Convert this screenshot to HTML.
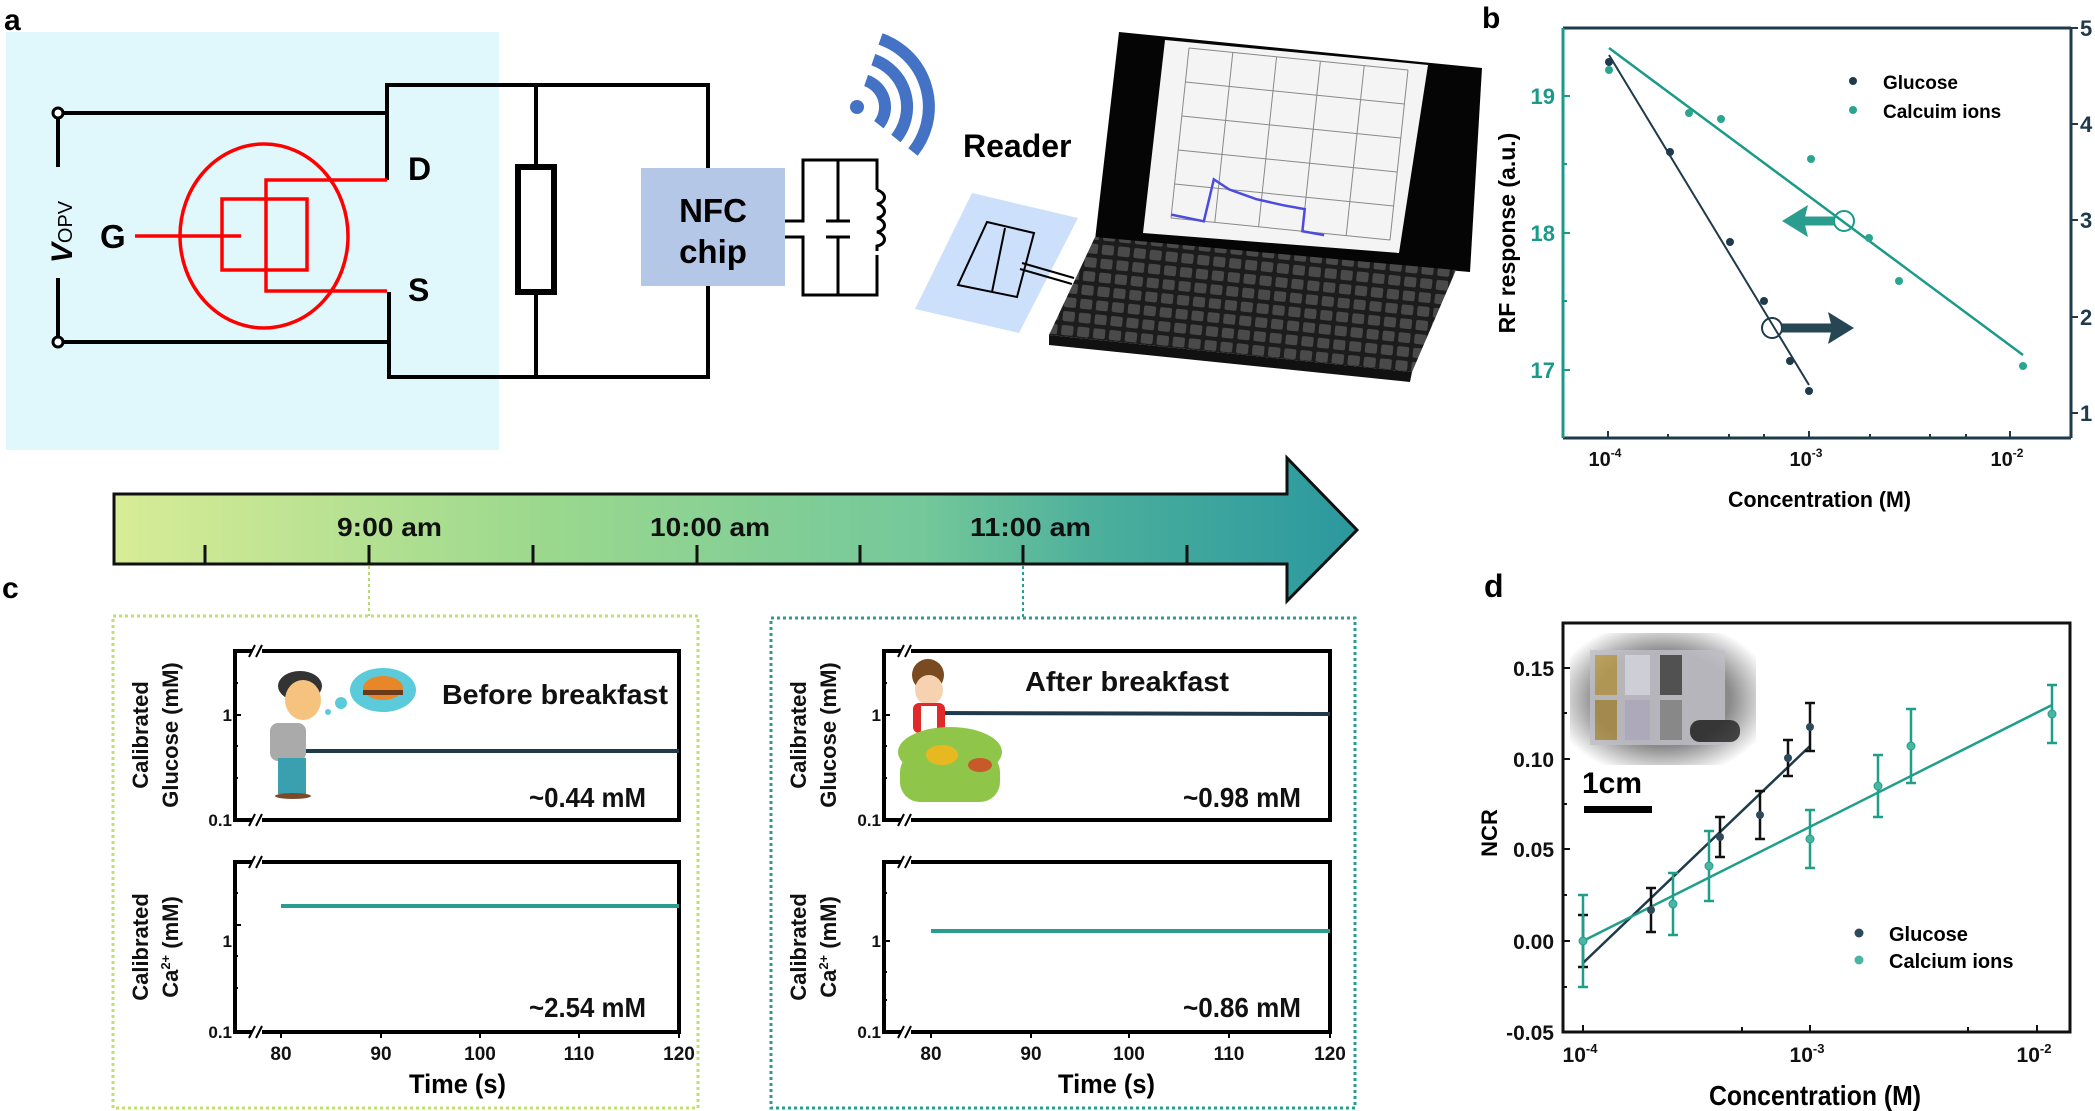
<!DOCTYPE html>
<html><head><meta charset="utf-8"><style>
html,body{margin:0;padding:0;background:#fff}
svg{display:block}
.b{font-family:"Liberation Sans",sans-serif;font-weight:bold}
.n{font-family:"Liberation Sans Narrow","Liberation Sans",sans-serif;font-weight:bold}
</style></head><body>
<svg width="2095" height="1111" viewBox="0 0 2095 1111" xmlns="http://www.w3.org/2000/svg">
<defs>
<linearGradient id="tg" x1="0" x2="1" y1="0" y2="0">
<stop offset="0" stop-color="#d8ec96"/><stop offset="0.35" stop-color="#9ad88e"/><stop offset="0.65" stop-color="#74c89a"/><stop offset="0.8" stop-color="#4aae9c"/><stop offset="1" stop-color="#2b989f"/>
</linearGradient>
<radialGradient id="ph" cx="0.5" cy="0.5" r="0.6"><stop offset="0.6" stop-color="#8a8a8a"/><stop offset="1" stop-color="#fff"/></radialGradient>
<pattern id="keys" width="16" height="14" patternUnits="userSpaceOnUse" patternTransform="rotate(6)"><rect width="16" height="14" fill="#1c1c1c"/><rect x="2" y="2" width="12" height="10" rx="2" fill="#4a4a4a"/></pattern>
</defs>

<!-- Panel a -->
<rect x="6" y="32" width="493" height="418" fill="#e0f8fb"/>
<text x="4" y="30" class="b" font-size="30">a</text>
<g stroke="#000" stroke-width="4" fill="none">
<polyline points="58,113 387,113"/>
<polyline points="387,180 387,85 708,85 708,168"/>
<polyline points="58,342 389,342"/>
<polyline points="389,292 389,377 708,377 708,286"/>
<line x1="58" y1="113" x2="58" y2="167"/><line x1="58" y1="278" x2="58" y2="342"/>
<line x1="536" y1="85" x2="536" y2="377"/>
</g>
<circle cx="58" cy="113" r="5" fill="#fff" stroke="#000" stroke-width="3"/>
<circle cx="58" cy="342" r="5" fill="#fff" stroke="#000" stroke-width="3"/>
<rect x="518" y="167" width="36" height="125" fill="#fff" stroke="#000" stroke-width="6"/>
<text transform="translate(72,232) rotate(-90)" text-anchor="middle" class="b" font-size="30"><tspan font-style="italic">V</tspan><tspan font-size="20" font-weight="normal">OPV</tspan></text>
<g stroke="#f00" stroke-width="3.5" fill="none">
<ellipse cx="264" cy="236" rx="84" ry="92"/>
<line x1="135" y1="236" x2="241" y2="236"/>
<rect x="222" y="199" width="85" height="71"/>
<polyline points="387,180 266,180 266,291 387,291"/>
</g>
<text x="100" y="248" class="b" font-size="33">G</text>
<text x="408" y="180" class="b" font-size="32">D</text>
<text x="408" y="301" class="b" font-size="32">S</text>
<rect x="641" y="168" width="144" height="118" fill="#b4c7e7"/>
<text x="713" y="222" text-anchor="middle" class="b" font-size="33">NFC</text>
<text x="713" y="263" text-anchor="middle" class="b" font-size="33">chip</text>
<g stroke="#000" stroke-width="3" fill="none">
<polyline points="785,221 803,221 803,160 877,160 877,190"/>
<polyline points="785,237 803,237 803,295 877,295 877,255"/>
<line x1="838" y1="160" x2="838" y2="221"/><line x1="826" y1="221" x2="850" y2="221"/>
<line x1="838" y1="237" x2="838" y2="295"/><line x1="826" y1="237" x2="850" y2="237"/>
<path d="M877,190 c10,3 10,12 0,14 c10,3 10,12 0,14 c10,3 10,12 0,14 c10,3 10,12 0,14 l0,5"/>
</g>
<!-- wifi -->
<circle cx="857" cy="107" r="7" fill="#4472c4"/>
<g stroke="#4472c4" stroke-width="12" fill="none">
<path d="M866.1,80.5 A28,28 0 0 1 878.8,124.6"/>
<path d="M873.3,59.7 A50,50 0 0 1 895.9,138.5"/>
<path d="M880.5,38.9 A72,72 0 0 1 913,152"/>
</g>
<text x="963" y="157" class="b" font-size="32">Reader</text>
<!-- reader sheet -->
<polygon points="972,193 1078,218 1019,333 915,309" fill="#cce0fb"/>
<g stroke="#000" stroke-width="2" fill="none">
<polygon points="987,222 1034,233 1017,297 958,285"/>
<line x1="1005" y1="228" x2="992" y2="292"/>
<line x1="1022" y1="263" x2="1074" y2="278"/><line x1="1020" y1="269" x2="1072" y2="284"/>
</g>
<!-- laptop -->
<polygon points="1119,32 1482,68 1470,272 1095,240" fill="#050505"/>
<polygon points="1165,40 1428,65 1399,253 1143,233" fill="#f4f4f4"/>
<g transform="matrix(219,22,18,-170,1171,218)" fill="none" stroke="#888" stroke-width="1" vector-effect="non-scaling-stroke">
<path vector-effect="non-scaling-stroke" d="M0,0 L1,0 M0,.2 L1,.2 M0,.4 L1,.4 M0,.6 L1,.6 M0,.8 L1,.8 M0,1 L1,1 M0,0 L0,1 M.2,0 L.2,1 M.4,0 L.4,1 M.6,0 L.6,1 M.8,0 L.8,1 M1,0 L1,1"/>
<polyline vector-effect="non-scaling-stroke" stroke="#4b4be0" stroke-width="2.5" points="0,.02 .15,0 .175,.25 .25,.2 .375,.16 .5,.14 .6,.13 .6,0 .7,-.01"/>
</g>
<polygon points="1095,237 1456,270 1412,372 1049,335" fill="url(#keys)"/>
<polygon points="1049,335 1412,372 1410,382 1049,345" fill="#111"/>

<!-- Panel b -->
<text x="1482" y="28" class="b" font-size="30">b</text>
<line x1="1563" y1="28" x2="2071" y2="28" stroke="#1f3a4a" stroke-width="3"/>
<line x1="1563" y1="438" x2="2071" y2="438" stroke="#1f3a4a" stroke-width="3"/>
<line x1="1563" y1="28" x2="1563" y2="438" stroke="#1a9a88" stroke-width="3"/>
<line x1="2071" y1="28" x2="2071" y2="438" stroke="#1f3a4a" stroke-width="3"/>
<g stroke="#1a9a88" stroke-width="2">
<line x1="1563" y1="96" x2="1570" y2="96"/><line x1="1563" y1="233" x2="1570" y2="233"/><line x1="1563" y1="370" x2="1570" y2="370"/>
<line x1="1563" y1="164" x2="1567" y2="164"/><line x1="1563" y1="301" x2="1567" y2="301"/>
</g>
<g class="b" font-size="22" fill="#1a9a88" text-anchor="end"><text x="1555" y="104">19</text><text x="1555" y="241">18</text><text x="1555" y="378">17</text></g>
<g stroke="#1f3a4a" stroke-width="2">
<line x1="2071" y1="28" x2="2078" y2="28"/><line x1="2071" y1="124" x2="2078" y2="124"/><line x1="2071" y1="220" x2="2078" y2="220"/><line x1="2071" y1="317" x2="2078" y2="317"/><line x1="2071" y1="413" x2="2078" y2="413"/>
</g>
<g class="b" font-size="22" fill="#1f3a4a"><text x="2080" y="36">5</text><text x="2080" y="132">4</text><text x="2080" y="228">3</text><text x="2080" y="325">2</text><text x="2080" y="421">1</text></g>
<g stroke="#1f3a4a" stroke-width="2">
<line x1="1608" y1="438" x2="1608" y2="431"/><line x1="1809" y1="438" x2="1809" y2="431"/><line x1="2010" y1="438" x2="2010" y2="431"/>
<line x1="1668" y1="438" x2="1668" y2="434"/><line x1="1729" y1="438" x2="1729" y2="434"/><line x1="1764" y1="438" x2="1764" y2="434"/><line x1="1870" y1="438" x2="1870" y2="434"/><line x1="1930" y1="438" x2="1930" y2="434"/><line x1="1966" y1="438" x2="1966" y2="434"/>
</g>
<g class="n" font-size="20" fill="#111" text-anchor="middle"><text x="1605" y="466">10<tspan font-size="12" dy="-9">-4</tspan></text><text x="1806" y="466">10<tspan font-size="12" dy="-9">-3</tspan></text><text x="2007" y="466">10<tspan font-size="12" dy="-9">-2</tspan></text></g>
<text x="1728" y="507" class="n" font-size="22" textLength="183" lengthAdjust="spacingAndGlyphs">Concentration (M)</text>
<text transform="translate(1515,233) rotate(-90)" text-anchor="middle" class="b" font-size="23">RF response (a.u.)</text>
<line x1="1609" y1="55" x2="1809" y2="385" stroke="#1f3a4a" stroke-width="2"/>
<line x1="1609" y1="48" x2="2023" y2="355" stroke="#1a9a88" stroke-width="2.5"/>
<g fill="#1f3a4a"><circle cx="1609" cy="62" r="4"/><circle cx="1670" cy="152" r="4"/><circle cx="1730" cy="242" r="4"/><circle cx="1764" cy="301" r="4"/><circle cx="1790" cy="361" r="4"/><circle cx="1809" cy="391" r="4"/></g>
<g fill="#2aa58f"><circle cx="1609" cy="70" r="4"/><circle cx="1689" cy="113" r="4"/><circle cx="1721" cy="119" r="4"/><circle cx="1811" cy="159" r="4"/><circle cx="1869" cy="238" r="4"/><circle cx="1899" cy="281" r="4"/><circle cx="2023" cy="366" r="4"/></g>
<circle cx="1844" cy="221" r="10" fill="none" stroke="#1a9a88" stroke-width="2"/>
<line x1="1834" y1="221" x2="1798" y2="221" stroke="#2a9d8f" stroke-width="9"/>
<polygon points="1782,221 1808,205 1804,221 1808,237" fill="#2a9d8f"/>
<circle cx="1772" cy="328" r="10" fill="none" stroke="#1f3a4a" stroke-width="2"/>
<line x1="1782" y1="328" x2="1838" y2="328" stroke="#264653" stroke-width="9"/>
<polygon points="1854,328 1828,312 1832,328 1828,344" fill="#264653"/>
<circle cx="1853" cy="81" r="4" fill="#1f3a4a"/><text x="1883" y="89" class="b" font-size="19">Glucose</text>
<circle cx="1853" cy="110" r="4" fill="#2aa58f"/><text x="1883" y="118" class="b" font-size="19">Calcuim ions</text>

<!-- Timeline -->
<polygon points="114,494 1287,494 1287,458 1357,530 1287,601 1287,564 114,564" fill="url(#tg)" stroke="#111" stroke-width="3"/>
<g stroke="#111" stroke-width="3"><line x1="205" y1="545" x2="205" y2="564"/><line x1="369" y1="545" x2="369" y2="564"/><line x1="533" y1="545" x2="533" y2="564"/><line x1="697" y1="545" x2="697" y2="564"/><line x1="860" y1="545" x2="860" y2="564"/><line x1="1023" y1="545" x2="1023" y2="564"/><line x1="1187" y1="545" x2="1187" y2="564"/></g>
<g class="n" font-size="26" fill="#111">
<text x="337" y="536" textLength="105" lengthAdjust="spacingAndGlyphs">9:00 am</text>
<text x="650" y="536" textLength="120" lengthAdjust="spacingAndGlyphs">10:00 am</text>
<text x="970" y="536" textLength="121" lengthAdjust="spacingAndGlyphs">11:00 am</text></g>
<text x="2" y="598" class="b" font-size="30">c</text>
<line x1="369" y1="566" x2="369" y2="616" stroke="#b5dc6e" stroke-width="2" stroke-dasharray="3,3"/>
<line x1="1023" y1="566" x2="1023" y2="618" stroke="#2a9d8f" stroke-width="2" stroke-dasharray="3,3"/>
<rect x="113" y="616" width="585" height="492" fill="none" stroke="#c0e070" stroke-width="3" stroke-dasharray="3,3"/>
<rect x="771" y="618" width="584" height="490" fill="none" stroke="#2a9d8f" stroke-width="3" stroke-dasharray="3,3"/>

<!-- c plots -->
<g stroke="#000" fill="none">
<rect x="235" y="651" width="444" height="169" stroke-width="4"/>
<rect x="235" y="862" width="444" height="170" stroke-width="4"/>
<rect x="884" y="651" width="446" height="169" stroke-width="4"/>
<rect x="884" y="862" width="446" height="170" stroke-width="4"/>
</g>
<g stroke="#fff" stroke-width="5"><line x1="252" y1="651" x2="262" y2="651"/><line x1="252" y1="820" x2="262" y2="820"/><line x1="252" y1="862" x2="262" y2="862"/><line x1="252" y1="1032" x2="262" y2="1032"/><line x1="901" y1="651" x2="911" y2="651"/><line x1="901" y1="820" x2="911" y2="820"/><line x1="901" y1="862" x2="911" y2="862"/><line x1="901" y1="1032" x2="911" y2="1032"/></g>
<g stroke="#000" stroke-width="2"><path d="M249,657 l6,-12 M256,657 l6,-12 M249,826 l6,-12 M256,826 l6,-12 M249,868 l6,-12 M256,868 l6,-12 M249,1038 l6,-12 M256,1038 l6,-12 M898,657 l6,-12 M905,657 l6,-12 M898,826 l6,-12 M905,826 l6,-12 M898,868 l6,-12 M905,868 l6,-12 M898,1038 l6,-12 M905,1038 l6,-12"/></g>
<g stroke="#000" stroke-width="2"><path d="M235,715 h6 M235,925 h6 M884,715 h6 M884,941 h6 M235,683 h3 M235,746 h3 M235,778 h3 M884,683 h3 M884,746 h3 M884,778 h3 M235,893 h3 M235,956 h3 M235,988 h3 M884,893 h3 M884,972 h3 M884,1000 h3"/></g>
<g class="n" font-size="17" fill="#111" text-anchor="end">
<text x="232" y="721">1</text><text x="232" y="826">0.1</text><text x="232" y="947">1</text><text x="232" y="1038">0.1</text>
<text x="881" y="721">1</text><text x="881" y="826">0.1</text><text x="881" y="947">1</text><text x="881" y="1038">0.1</text>
</g>
<g class="n" font-size="19" fill="#111" text-anchor="middle">
<text x="281" y="1060">80</text><text x="381" y="1060">90</text><text x="480" y="1060">100</text><text x="579" y="1060">110</text><text x="679" y="1060">120</text>
<text x="931" y="1060">80</text><text x="1031" y="1060">90</text><text x="1129" y="1060">100</text><text x="1229" y="1060">110</text><text x="1330" y="1060">120</text>
</g>
<g stroke="#000" stroke-width="2"><path d="M281,1032 v6 M381,1032 v6 M480,1032 v6 M579,1032 v6 M679,1032 v6 M931,1032 v6 M1031,1032 v6 M1129,1032 v6 M1229,1032 v6 M1330,1032 v6"/></g>
<text x="409" y="1093" class="n" font-size="27" textLength="97" lengthAdjust="spacingAndGlyphs">Time (s)</text>
<text x="1058" y="1093" class="n" font-size="27" textLength="97" lengthAdjust="spacingAndGlyphs">Time (s)</text>
<g class="b" font-size="22" fill="#111" text-anchor="middle">
<text transform="translate(148,735) rotate(-90)">Calibrated</text><text transform="translate(178,735) rotate(-90)">Glucose (mM)</text>
<text transform="translate(148,947) rotate(-90)">Calibrated</text><text transform="translate(178,947) rotate(-90)">Ca<tspan font-size="13" dy="-8">2+</tspan><tspan dy="8"> (mM)</tspan></text>
<text transform="translate(806,735) rotate(-90)">Calibrated</text><text transform="translate(836,735) rotate(-90)">Glucose (mM)</text>
<text transform="translate(806,947) rotate(-90)">Calibrated</text><text transform="translate(836,947) rotate(-90)">Ca<tspan font-size="13" dy="-8">2+</tspan><tspan dy="8"> (mM)</tspan></text>
</g>
<line x1="281" y1="751" x2="679" y2="751" stroke="#1f3a4a" stroke-width="4"/>
<line x1="281" y1="906" x2="679" y2="906" stroke="#2a9d8f" stroke-width="4"/>
<line x1="931" y1="713" x2="1330" y2="714" stroke="#1f3a4a" stroke-width="4"/>
<line x1="931" y1="931" x2="1330" y2="931" stroke="#2a9d8f" stroke-width="4"/>
<g class="n" font-size="28" fill="#111">
<text x="442" y="704" textLength="226" lengthAdjust="spacingAndGlyphs">Before breakfast</text>
<text x="1025" y="691" textLength="204" lengthAdjust="spacingAndGlyphs">After breakfast</text>
<text x="529" y="807" textLength="117" lengthAdjust="spacingAndGlyphs">~0.44 mM</text>
<text x="1183" y="807" textLength="118" lengthAdjust="spacingAndGlyphs">~0.98 mM</text>
<text x="529" y="1017" textLength="117" lengthAdjust="spacingAndGlyphs">~2.54 mM</text>
<text x="1183" y="1017" textLength="118" lengthAdjust="spacingAndGlyphs">~0.86 mM</text>
</g>
<!-- boy -->
<ellipse cx="300" cy="686" rx="22" ry="15" fill="#333"/>
<ellipse cx="303" cy="700" rx="18" ry="20" fill="#f5c37e"/>
<rect x="270" y="723" width="36" height="38" rx="8" fill="#aaa"/>
<rect x="278" y="758" width="28" height="36" fill="#3aa0b0"/>
<ellipse cx="293" cy="796" rx="18" ry="3" fill="#7a4a2a"/>
<ellipse cx="383" cy="690" rx="33" ry="22" fill="#5bcbdc"/>
<ellipse cx="383" cy="688" rx="20" ry="12" fill="#e8862a"/>
<rect x="363" y="690" width="40" height="5" fill="#6b3a1a"/>
<circle cx="341" cy="703" r="6" fill="#5bcbdc"/><circle cx="328" cy="712" r="3" fill="#5bcbdc"/>
<!-- child -->
<ellipse cx="928" cy="675" rx="16" ry="16" fill="#7a4a20"/>
<ellipse cx="929" cy="690" rx="14" ry="15" fill="#f7d2b0"/>
<rect x="913" y="703" width="32" height="30" rx="6" fill="#e02a2a"/>
<rect x="921" y="706" width="16" height="26" fill="#fff"/>
<ellipse cx="950" cy="752" rx="52" ry="25" fill="#8fc64a"/>
<rect x="900" y="752" width="100" height="50" rx="20" fill="#8fc64a"/>
<ellipse cx="942" cy="755" rx="16" ry="10" fill="#e8b820"/>
<ellipse cx="980" cy="765" rx="12" ry="7" fill="#c85a2a"/>

<!-- Panel d -->
<text x="1484" y="597" class="b" font-size="32">d</text>
<rect x="1563" y="623" width="507" height="409" fill="none" stroke="#111" stroke-width="3"/>
<rect x="1570" y="633" width="186" height="132" fill="url(#ph)"/>
<g opacity="0.8"><rect x="1590" y="650" width="135" height="95" fill="#c0c0c8"/><rect x="1595" y="655" width="22" height="40" fill="#b99a48"/><rect x="1625" y="655" width="25" height="40" fill="#e0e0ea"/><rect x="1660" y="655" width="22" height="40" fill="#444"/><rect x="1595" y="700" width="22" height="40" fill="#a88a40"/><rect x="1625" y="700" width="25" height="40" fill="#b8b0c8"/><rect x="1660" y="700" width="22" height="40" fill="#888"/><rect x="1690" y="720" width="50" height="22" rx="10" fill="#222"/></g>
<text x="1582" y="793" class="b" font-size="30">1cm</text>
<rect x="1584" y="806" width="68" height="7" fill="#000"/>
<g stroke="#111" stroke-width="2">
<path d="M1563,668 h7 M1563,759 h7 M1563,849 h7 M1563,941 h7 M1563,1032 h7 M1563,713 h4 M1563,804 h4 M1563,895 h4 M1563,987 h4"/>
<path d="M1583,1032 v-7 M1810,1032 v-7 M2037,1032 v-7 M1742,1032 v-5 M1968,1032 v-5"/>
</g>
<g class="n" font-size="21" fill="#111" text-anchor="end">
<text x="1554" y="676">0.15</text><text x="1554" y="767">0.10</text><text x="1554" y="857">0.05</text><text x="1554" y="949">0.00</text><text x="1554" y="1040">-0.05</text>
</g>
<g class="n" font-size="21" fill="#111" text-anchor="middle"><text x="1580" y="1062">10<tspan font-size="13" dy="-9">-4</tspan></text><text x="1807" y="1062">10<tspan font-size="13" dy="-9">-3</tspan></text><text x="2034" y="1062">10<tspan font-size="13" dy="-9">-2</tspan></text></g>
<text x="1709" y="1105" class="n" font-size="28" textLength="212" lengthAdjust="spacingAndGlyphs">Concentration (M)</text>
<text transform="translate(1497,833) rotate(-90)" text-anchor="middle" class="b" font-size="22">NCR</text>
<line x1="1583" y1="963" x2="1810" y2="746" stroke="#1f3a4a" stroke-width="2.5"/>
<line x1="1583" y1="941" x2="2052" y2="705" stroke="#1f9e89" stroke-width="2.5"/>
<g stroke="#111" stroke-width="2.5" fill="none">
<path d="M1583,915 v52 M1578,915 h10 M1578,967 h10"/>
<path d="M1651,888 v44 M1646,888 h10 M1646,932 h10"/>
<path d="M1720,817 v40 M1715,817 h10 M1715,857 h10"/>
<path d="M1760,791 v48 M1755,791 h10 M1755,839 h10"/>
<path d="M1788,740 v36 M1783,740 h10 M1783,776 h10"/>
<path d="M1810,703 v48 M1805,703 h10 M1805,751 h10"/>
</g>
<g stroke="#1f9e89" stroke-width="2.5" fill="none">
<path d="M1583,895 v92 M1578,895 h10 M1578,987 h10"/>
<path d="M1673,873 v62 M1668,873 h10 M1668,935 h10"/>
<path d="M1709,831 v70 M1704,831 h10 M1704,901 h10"/>
<path d="M1810,810 v58 M1805,810 h10 M1805,868 h10"/>
<path d="M1878,755 v62 M1873,755 h10 M1873,817 h10"/>
<path d="M1911,709 v74 M1906,709 h10 M1906,783 h10"/>
<path d="M2052,685 v58 M2047,685 h10 M2047,743 h10"/>
</g>
<g fill="#2e4a5a"><circle cx="1583" cy="941" r="4"/><circle cx="1651" cy="910" r="4"/><circle cx="1720" cy="837" r="4"/><circle cx="1760" cy="815" r="4"/><circle cx="1788" cy="758" r="4"/><circle cx="1810" cy="727" r="4"/></g>
<g fill="#4ab5a3" stroke="#1f9e89"><circle cx="1583" cy="941" r="4"/><circle cx="1673" cy="904" r="4"/><circle cx="1709" cy="866" r="4"/><circle cx="1810" cy="839" r="4"/><circle cx="1878" cy="786" r="4"/><circle cx="1911" cy="746" r="4"/><circle cx="2052" cy="714" r="4"/></g>
<circle cx="1859" cy="933" r="4.5" fill="#2e4a5a"/><text x="1889" y="941" class="b" font-size="20">Glucose</text>
<circle cx="1859" cy="960" r="4.5" fill="#4ab5a3"/><text x="1889" y="968" class="b" font-size="20">Calcium ions</text>
</svg>
</body></html>
